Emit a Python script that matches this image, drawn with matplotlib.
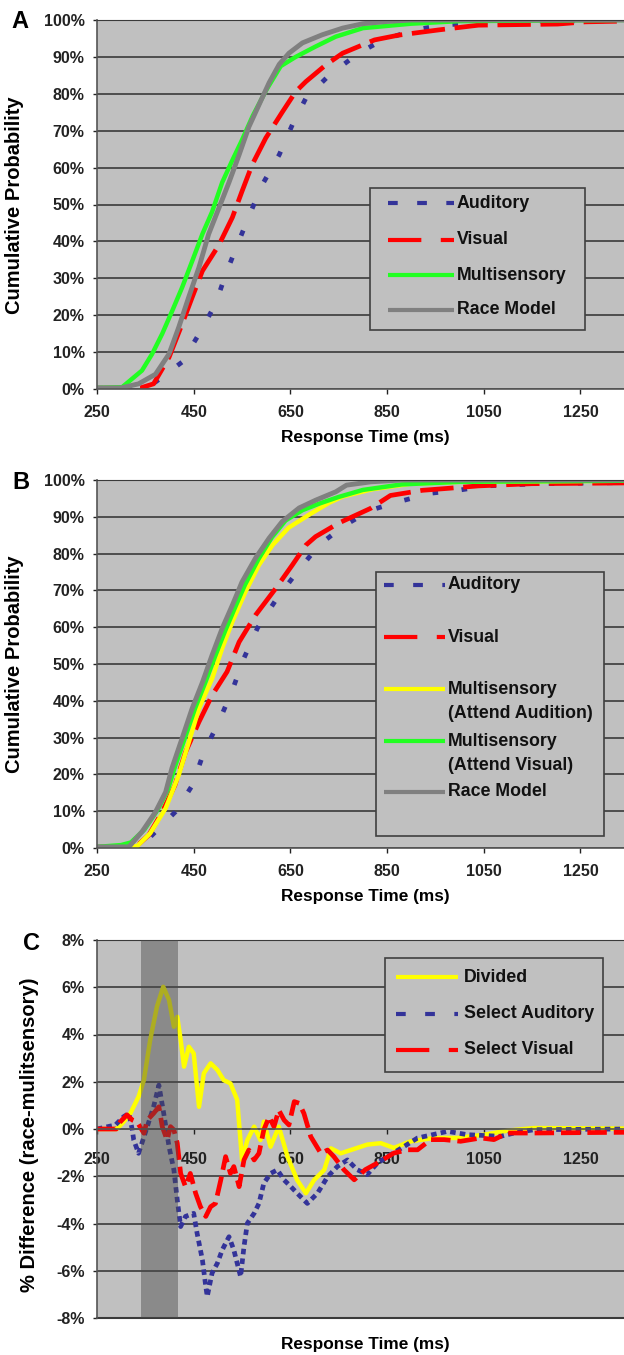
import numpy as np
import matplotlib.pyplot as plt
from matplotlib.lines import Line2D
from matplotlib.patches import Rectangle

# ---- data (response time in ms, cumulative %) ----
# panel A
aud_a_t = [250, 350, 371, 426, 461, 495, 516, 540, 568, 592, 627, 654, 682, 730, 791, 841, 907, 964, 1030, 1100, 1340]
aud_a_p = [0.2, 0.3, 1.9, 7.3, 14.9, 23, 31, 39, 48, 55.4, 63.5, 71.6, 78.8, 85, 91, 94.6, 97.3, 98.6, 99.2, 99.7, 99.8]
vis_a_t = [250, 340, 367, 399, 426, 447, 468, 502, 530, 550, 571, 599, 633, 661, 682, 723, 758, 824, 874, 956, 1039, 1203, 1260, 1340]
vis_a_p = [0.2, 0.3, 1.4, 8.6, 17.6, 24.9, 32, 39, 46.5, 53.6, 60.8, 68, 75, 80.6, 83.3, 87.8, 91, 94.6, 95.9, 97.3, 98.6, 98.9, 99.5, 99.7]
multi_a_t = [250, 302, 343, 364, 385, 405, 426, 447, 468, 488, 509, 530, 550, 572, 600, 630, 661, 702, 744, 800, 900, 1000, 1340]
multi_a_p = [0.3, 0.5, 5, 9.5, 15, 21, 27.5, 34.7, 42, 48, 56, 62, 67.5, 74, 81, 87.5, 90, 92.8, 95.5, 97.8, 99, 99.7, 100]
race_a_t = [250, 300, 336, 371, 399, 419, 440, 461, 481, 502, 523, 544, 564, 585, 606, 627, 647, 675, 716, 758, 800, 850, 900, 1340]
race_a_p = [0.3, 0.3, 1.4, 4, 9.5, 16.7, 25, 33, 42, 49, 56, 63.5, 71, 77, 83, 88, 91, 93.8, 96, 97.8, 99, 99.6, 100, 100]

# panel B
aud_b_t = [250, 340, 364, 412, 447, 471, 502, 530, 554, 582, 623, 664, 709, 760, 816, 874, 940, 997, 1055, 1170, 1340]
aud_b_p = [0.2, 0.3, 3.5, 9.8, 17, 26, 34.3, 42.9, 51.6, 59.8, 68, 75, 82.3, 87.5, 91.8, 94.1, 96.4, 97.2, 98.4, 99, 99.3]
vis_b_t = [250, 330, 357, 385, 411, 433, 461, 488, 519, 544, 578, 620, 654, 682, 702, 750, 816, 857, 923, 973, 1039, 1150, 1340]
vis_b_p = [0.2, 0.3, 3.5, 9.8, 17, 26, 34.3, 41.5, 47.9, 56, 63.3, 70.6, 76.9, 82.3, 84.6, 88.3, 92.3, 95.8, 97.2, 97.7, 98.4, 99, 99.2]
attaud_b_t = [250, 333, 360, 392, 419, 440, 461, 488, 509, 530, 557, 585, 613, 646, 689, 730, 758, 820, 900, 1000, 1340]
attaud_b_p = [0.2, 0.5, 4, 10.8, 19.8, 28.8, 38, 46, 54.3, 61.5, 69.6, 76.9, 82.3, 87, 90.6, 93.8, 95.5, 97.5, 99, 99.5, 99.8]
attvis_b_t = [250, 300, 320, 348, 376, 397, 411, 432, 453, 474, 494, 515, 536, 556, 584, 612, 640, 675, 710, 750, 800, 880, 1000, 1340]
attvis_b_p = [0.3, 0.8, 1.5, 5, 10.5, 16, 22, 30, 38, 45, 52, 59, 65.5, 71.5, 78.5, 84.5, 89, 91.8, 93.6, 95.4, 97.3, 98.8, 99.5, 99.8]
race_b_t = [250, 316, 343, 371, 392, 405, 426, 447, 468, 488, 509, 530, 550, 578, 606, 633, 668, 702, 744, 766, 816, 880, 1340]
race_b_p = [0.3, 0.3, 4.4, 9.8, 15.2, 21.7, 29.8, 38, 45, 52.4, 59.7, 66, 72.3, 78.8, 84.2, 88.7, 92.4, 94.5, 96.8, 98.6, 99.5, 100, 100]

# panel C (race - multisensory, %)
div_t = [250, 291, 305, 319, 336, 347, 360, 374, 387, 399, 409, 416, 423, 430, 440, 450, 461, 471, 485, 499, 512, 526,
         540, 550, 561, 575, 588, 595, 609, 626, 644, 664, 682, 699, 720, 734, 754, 775, 809, 837, 864, 899, 947, 995,
         1051, 1099, 1154, 1340]
div_v = [0, 0, 0.3, 0.66, 1.37, 2.07, 3.77, 5.18, 6.02, 5.46, 4.33, 4.75, 3.77, 2.64, 3.48, 3.2, 0.94, 2.36, 2.78, 2.5,
         2.07, 1.93, 1.23, -1.31, -0.47, 0.1, -0.47, 0.31, -0.75, 0.1, -1.17, -2.16, -2.72, -2.16, -1.73, -0.82, -1.03,
         -0.89, -0.66, -0.6, -0.8, -0.52, -0.38, -0.38, -0.24, -0.07, 0.04, 0.02]
selaud_t = [250, 288, 305, 316, 323, 326, 336, 354, 367, 378, 388, 399, 409, 416, 423, 433, 450, 457, 468, 475, 478, 488,
            499, 509, 523, 533, 547, 554, 561, 575, 585, 595, 609, 623, 637, 651, 664, 685, 706, 727, 747, 768, 788, 809,
            830, 857, 885, 913, 975, 1016, 1085, 1113, 1154, 1340]
selaud_v = [0, 0.17, 0.52, 0.66, -0.04, -0.47, -1.03, 0.1, 0.94, 1.86, 0.66, -0.75, -1.73, -3.0, -4.13, -3.7, -3.57,
            -4.41, -5.54, -6.67, -7.09, -6.1, -5.68, -5.12, -4.56, -5.12, -6.25, -4.98, -3.99, -3.57, -3.15, -2.3, -1.88,
            -1.73, -2.16, -2.44, -2.72, -3.15, -2.72, -2.02, -1.59, -1.31, -1.72, -1.93, -1.44, -1.09, -0.74, -0.38,
            -0.1, -0.24, -0.31, -0.17, -0.03, 0]
selvis_t = [250, 290, 298, 312, 323, 333, 347, 354, 367, 378, 385, 395, 402, 409, 416, 423, 433, 443, 454, 464, 475, 485,
            495, 506, 516, 526, 533, 544, 554, 564, 575, 585, 595, 606, 616, 626, 637, 647, 658, 668, 678, 692, 713, 727,
            740, 761, 782, 805, 830, 864, 892, 913, 940, 968, 1002, 1044, 1071, 1099, 1154, 1340]
selvis_v = [0, 0, 0.3, 0.6, 0.38, 0.3, -0.18, 0.38, 0.66, 0.94, 0.1, -0.47, 0.1, -0.04, -0.6, -1.88, -2.44, -1.88,
            -2.72, -3.29, -3.7, -3.29, -3.15, -2.16, -1.17, -1.88, -1.59, -2.44, -1.31, -0.89, -1.31, -1.03, -0.04, 0.52,
            0.1, 0.8, 0.38, 0.17, 1.16, 1.09, 0.66, -0.32, -1.03, -0.89, -1.17, -1.73, -2.15, -1.72, -1.44, -1.02,
            -0.88, -0.88, -0.45, -0.45, -0.52, -0.38, -0.45, -0.17, -0.17, -0.14]
window = (340, 418)

xticks = [250, 450, 650, 850, 1050, 1250]

W, H = 624, 1355
BG = '#C0C0C0'
GRID = '#3a3a3a'
BLUE, RED, GREEN, GRAY, YEL = '#333399', '#FF0000', '#22FF22', '#808080', '#FFFF00'

plt.rcParams['font.family'] = ['Liberation Sans', 'DejaVu Sans']
plt.rcParams['font.weight'] = 'bold'
plt.rcParams['lines.scale_dashes'] = False

fig = plt.figure(figsize=(W / 100, H / 100), dpi=100)


def fx(x):
    return x / W


def fy(y):
    return 1 - y / H


def box(top, bottom, left=97, right=624):
    return [fx(left), fy(bottom), fx(right) - fx(left), fy(top) - fy(bottom)]


def style(ax, ylim, yticks, xpad):
    ax.set_facecolor(BG)
    ax.set_xlim(250, 1340)
    ax.set_ylim(*ylim)
    ax.set_xticks(xticks)
    ax.set_yticks(yticks)
    ax.set_yticklabels([f'{v:g}%' for v in yticks])
    ax.grid(axis='y', color=GRID, lw=1.2)
    ax.set_axisbelow(True)
    ax.spines['right'].set_visible(False)
    ax.spines['top'].set_color(GRID)
    for s in ('left', 'bottom'):
        ax.spines[s].set_color('#555555')
        ax.spines[s].set_linewidth(1.2)
    ax.tick_params(axis='y', length=3, width=1, pad=6, labelsize=11.5, colors='#222222')
    ax.tick_params(axis='x', length=3.5, width=1, pad=xpad, labelsize=11.5, colors='#222222')


def legend(frame, hx, tx, entries, fs=12.8):
    x0, y0, x1, y1 = frame
    fig.add_artist(Rectangle((fx(x0), fy(y1)), fx(x1) - fx(x0), fy(y0) - fy(y1),
                             transform=fig.transFigure, facecolor=BG, edgecolor='#404040', lw=1.2))
    for y, lines, kw in entries:
        fig.add_artist(Line2D([fx(hx[0]), fx(hx[1])], [fy(y), fy(y)], transform=fig.transFigure,
                              solid_capstyle='butt', dash_capstyle='butt', **kw))
        for i, s in enumerate(lines):
            fig.text(fx(tx), fy(y + 24 * i), s, fontsize=fs, va='center', ha='left', color='#111111')


aud_plot = dict(color=BLUE, lw=3.4, ls=(0, (4, 17)))
vis_plot = dict(color=RED, lw=3.4, ls=(0, (24, 7)))
aud_leg = dict(color=BLUE, lw=3, ls=(0, (7, 14)))
vis_leg = dict(color=RED, lw=3, ls=(0, (24, 14)))
solid = dict(lw=3.2, solid_capstyle='butt')

# ---- panel A ----
axA = fig.add_axes(box(20, 389))
style(axA, (0, 100), list(range(0, 101, 10)), 8)
axA.plot(aud_a_t, aud_a_p, **aud_plot)
axA.plot(vis_a_t, vis_a_p, **vis_plot)
axA.plot(multi_a_t, multi_a_p, color=GREEN, **solid)
axA.plot(race_a_t, race_a_p, color=GRAY, lw=3.5)
legend((370, 188, 585, 330), (388, 454), 457,
       [(203, ['Auditory'], aud_leg), (240, ['Visual'], vis_leg),
        (275, ['Multisensory'], dict(color=GREEN, lw=3)), (310, ['Race Model'], dict(color=GRAY, lw=3))])

# ---- panel B ----
axB = fig.add_axes(box(480, 848))
style(axB, (0, 100), list(range(0, 101, 10)), 8)
axB.plot(aud_b_t, aud_b_p, **aud_plot)
axB.plot(vis_b_t, vis_b_p, **vis_plot)
axB.plot(attaud_b_t, attaud_b_p, color=YEL, **solid)
axB.plot(attvis_b_t, attvis_b_p, color=GREEN, **solid)
axB.plot(race_b_t, race_b_p, color=GRAY, lw=3.5)
legend((376, 572, 604, 836), (384, 445), 448,
       [(585, ['Auditory'], aud_leg), (637, ['Visual'], vis_leg),
        (689, ['Multisensory', '(Attend Audition)'], dict(color=YEL, lw=3)),
        (741, ['Multisensory', '(Attend Visual)'], dict(color=GREEN, lw=3)),
        (792, ['Race Model'], dict(color=GRAY, lw=3))])

# ---- panel C ----
axC = fig.add_axes(box(940, 1318))
style(axC, (-8, 8), list(range(-8, 9, 2)), 13)
axC.spines['bottom'].set_position(('data', 0))
axC.axhline(-8, color=GRID, lw=1.5, clip_on=False)
axC.axvspan(*window, color='#4a4a4a', alpha=0.45, lw=0, zorder=4)
axC.plot(div_t, div_v, color=YEL, **solid)
axC.plot(selaud_t, selaud_v, color=BLUE, lw=3.4, ls=(0, (4, 3)))
axC.plot(selvis_t, selvis_v, color=RED, lw=3.4, ls=(0, (14, 5)))
legend((385, 958, 603, 1072), (396, 458), 464,
       [(977, ['Divided'], dict(color=YEL, lw=3)), (1014, ['Select Auditory'], aud_leg),
        (1050, ['Select Visual'], vis_leg)])

# ---- labels ----
for y, letter, x in ((22, 'A', 20), (482, 'B', 21), (943, 'C', 32)):
    fig.text(fx(x), fy(y), letter, fontsize=17, ha='center', va='center')
for y in (437, 897, 1345):
    fig.text(fx(365), fy(y), 'Response Time (ms)', fontsize=12.4, ha='center', va='center')
fig.text(fx(15), fy(205), 'Cumulative Probability', fontsize=14.5, rotation=90, ha='center', va='center')
fig.text(fx(15), fy(664), 'Cumulative Probability', fontsize=14.5, rotation=90, ha='center', va='center')
fig.text(fx(30), fy(1135), '% Difference (race-mulitsensory)', fontsize=14.5, rotation=90, ha='center', va='center')

fig.savefig('out.png', dpi=100)
